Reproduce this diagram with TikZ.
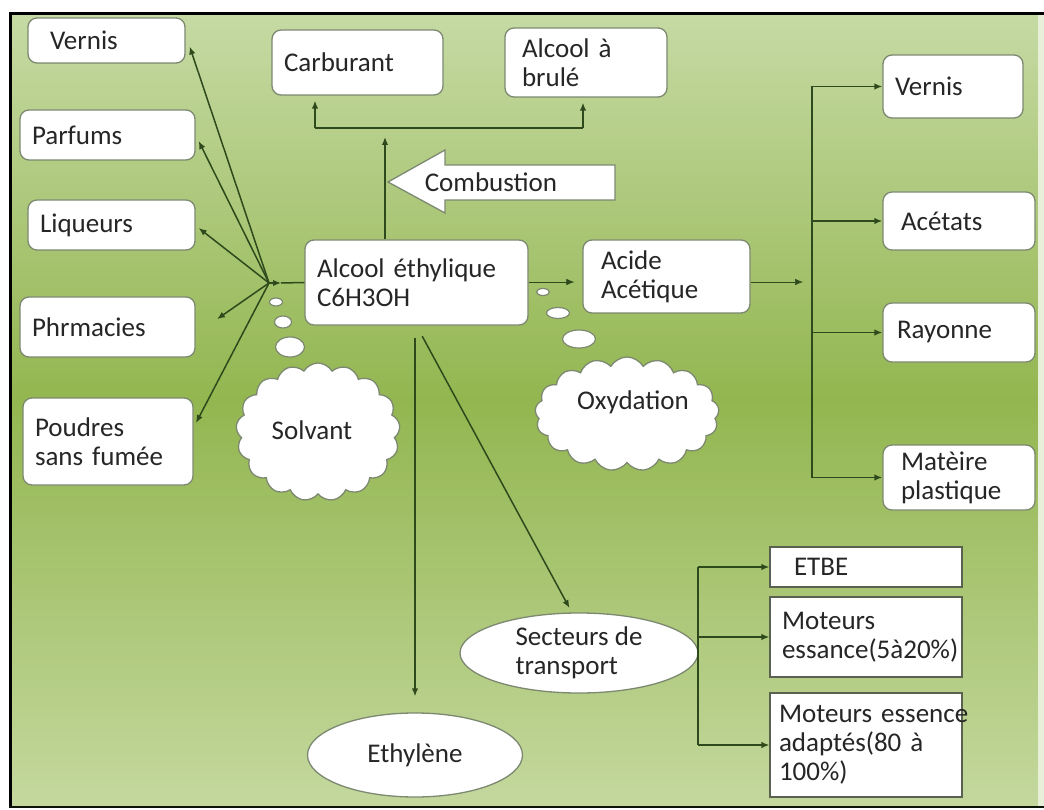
\documentclass[tikz,border=0pt]{standalone}
\usepackage{fontspec}
\setmainfont{Carlito}
\usetikzlibrary{arrows.meta,shapes.geometric,shapes.symbols,calc}
\definecolor{bgtop}{HTML}{C6DAA4}
\definecolor{bgmid}{HTML}{93B650}
\definecolor{bgbot}{HTML}{C4D89E}
\definecolor{edge}{HTML}{7C8870}
\definecolor{ln}{HTML}{2E4A1C}
\definecolor{txt}{HTML}{262626}
\definecolor{sqedge}{HTML}{5A6150}
\begin{document}
\begin{tikzpicture}[x=1pt,y=-1pt,
  font=\fontsize{27}{29}\selectfont, text=txt,
  rbox/.style={draw=edge, fill=white, rounded corners=9pt, line width=1.3pt, align=left, inner xsep=12pt, inner ysep=2pt},
  sbox/.style={draw=sqedge, fill=white, line width=1.3pt, align=left, inner xsep=12pt, inner ysep=2pt},
  oval/.style={ellipse, draw=edge, fill=white, line width=1.3pt, inner sep=0pt, align=left},
  puff/.style={cloud, cloud puffs=17, cloud puff arc=120, cloud ignores aspect, draw=edge, fill=white, line width=1.3pt, inner sep=0pt},
  bub/.style={ellipse, draw=edge, fill=white, line width=1.2pt, inner sep=0pt},
  arr/.style={draw=ln, line width=1.5pt, -{Latex[length=8pt,width=6.5pt]}},
  ln/.style={draw=ln, line width=1.5pt}]
\useasboundingbox (0,0) rectangle (1044,810);
\fill[white] (0,0) rectangle (1044,810);
\shade[top color=bgtop, bottom color=bgmid] (11,14) rectangle (1038,400.5);
\shade[top color=bgmid, bottom color=bgbot] (11,400) rectangle (1038,807);
\fill[white!60!bgbot] (1038,14) rectangle (1044,807);
\draw[black, line width=3pt] (9,14) -- (1044,14);
\draw[black, line width=3pt] (10.5,14) -- (10.5,808);
\draw[black!75!ln, line width=2pt] (9,807) -- (1044,807);

% left boxes
\node[rbox, inner xsep=22pt, text width=113pt, minimum height=45pt] (lvernis) at (106.5,40.5) {Vernis};
\node[rbox, text width=151pt, minimum height=50pt] (parfums) at (107.5,135) {Parfums};
\node[rbox, text width=143pt, minimum height=50pt] (liqueurs) at (111.5,225) {Liqueurs};
\node[rbox, text width=151pt, minimum height=60pt] (phrm) at (107.5,327) {Phrmacies};
\node[rbox, text width=146pt, minimum height=87pt] (poudres) at (108,441.5) {Poudres\\sans fumée};

% top boxes
\node[rbox, text width=147pt, minimum height=65pt] (carb) at (357.5,62.5) {Carburant};
\node[rbox, inner xsep=17pt, text width=128pt, minimum height=69pt] (brule) at (586,62.5) {Alcool à\\brulé};

% centre
\node[rbox, text width=199pt, minimum height=85pt] (alc) at (416.5,282.5) {Alcool éthylique\\C6H3OH};
\node[rbox, inner xsep=18pt, text width=131pt, minimum height=73pt] (acide) at (666.5,276.5) {Acide\\Acétique};

% right boxes
\node[rbox, text width=116pt, minimum height=63pt] (rvernis) at (953,86.5) {Vernis};
\node[rbox, inner xsep=18pt, text width=116pt, minimum height=58pt] (acetats) at (959,221) {Acétats};
\node[rbox, inner xsep=14pt, text width=124pt, minimum height=59pt] (rayonne) at (959,332.5) {Rayonne};
\node[rbox, inner xsep=18pt, text width=116pt, minimum height=65pt] (matiere) at (959,477.5) {Matèire\\plastique};

% bottom right square boxes
\node[sbox, inner xsep=24pt, text width=144pt, minimum height=40pt] (etbe) at (866,567) {ETBE};
\node[sbox, inner xsep=12pt, text width=168pt, minimum height=80pt] (mot1) at (866,637) {Moteurs\\\mbox{essance(5à20\%)}};
\node[sbox, inner xsep=9pt, text width=174pt, minimum height=104pt] (mot2) at (866,745) {\mbox{Moteurs essence}\\adaptés(80 à\\100\%)};

% ellipses
\node[oval, minimum width=215pt, minimum height=84pt] (ethyl) at (415,755) {Ethylène};
\node[oval, minimum width=238pt, minimum height=80pt] (sect) at (579,653) {Secteurs de\\transport};

% clouds and bubbles
\node[puff, minimum width=164pt, minimum height=138pt] (solv) at (318,432) {};
\node (solvt) at (312,430) {Solvant};
\node[bub, minimum width=13pt, minimum height=8pt] (s1) at (276,302) {};
\node[bub, minimum width=17pt, minimum height=12pt] (s2) at (283,322) {};
\node[bub, minimum width=29pt, minimum height=20pt] (s3) at (290,347) {};

\node[puff, minimum width=184pt, minimum height=114pt] (oxy) at (627,414) {};
\node (oxyt) at (633,402) {Oxydation};
\node[bub, minimum width=13pt, minimum height=7pt] (o1) at (543,292) {};
\node[bub, minimum width=23pt, minimum height=11pt] (o2) at (558,313) {};
\node[bub, minimum width=33pt, minimum height=18pt] (o3) at (579,339) {};

% combustion block arrow
\draw[draw=edge, fill=white, line width=1.3pt, line join=miter]
  (388,182) -- (445,150) -- (445,165) -- (615,165) -- (615,200) -- (445,200) -- (445,213) -- cycle;
\node (comb) at (491,182) {Combustion};

% coordinates
\coordinate (hub) at (269,283);
\coordinate (hubtip) at (281,283);
\coordinate (up) at (385,137);
\coordinate (bl) at (315,128);
\coordinate (br) at (583,128);
\coordinate (busR) at (812,282);
\coordinate (busB) at (698,567);

% solvent fan
\draw[ln] (alc.west) -- (hubtip);
\draw[arr] (hub) -- (hubtip);
\draw[arr] (hub) -- ([xshift=4pt,yshift=-6pt]lvernis.east);
\draw[arr] (hub) -- ([xshift=3pt,yshift=-6pt]parfums.east);
\draw[arr] (hub) -- ([xshift=3pt,yshift=-3pt]liqueurs.east);
\draw[arr, shorten >=26pt] (hub) -- ([yshift=-7pt]phrm.east);
\draw[arr, shorten >=5pt] (hub) -- ([yshift=14pt]poudres.east);

% combustion branch
\draw[arr] (alc.north -| up) -- (up);
\draw[ln] (bl) -- (br);
\draw[arr, shorten >=5pt] (bl) -- (carb.south -| bl);
\draw[arr, shorten >=5pt] (br) -- (brule.south -| br);

% oxydation branch
\draw[arr, line width=0.7pt, shorten >=8pt] (alc.east |- busR) -- (acide.west |- busR);
\draw[arr, line width=0.7pt, shorten >=9pt] (acide.east |- busR) -- (busR);
\draw[ln] (busR |- rvernis.west) -- (busR |- matiere.west);
\draw[arr] (busR |- rvernis.west) -- (rvernis.west);
\draw[arr] (busR |- acetats.west) -- (acetats.west);
\draw[arr] (busR |- rayonne.west) -- (rayonne.west);
\draw[arr] (busR |- matiere.west) -- (matiere.west);

% downward branches
\draw[arr, shorten <=12pt, shorten >=16pt] (alc.south -| ethyl.north) -- (ethyl.north);
\draw[arr, shorten <=12pt, shorten >=5pt] (alc.south) -- (sect.100);

% transport bracket
\draw[ln] (busB |- etbe.west) -- (busB |- mot2.west);
\draw[arr] (busB |- etbe.west) -- (etbe.west);
\draw[arr] (busB |- mot1.west) -- (mot1.west);
\draw[arr] (busB |- mot2.west) -- (mot2.west);
\end{tikzpicture}
\end{document}
